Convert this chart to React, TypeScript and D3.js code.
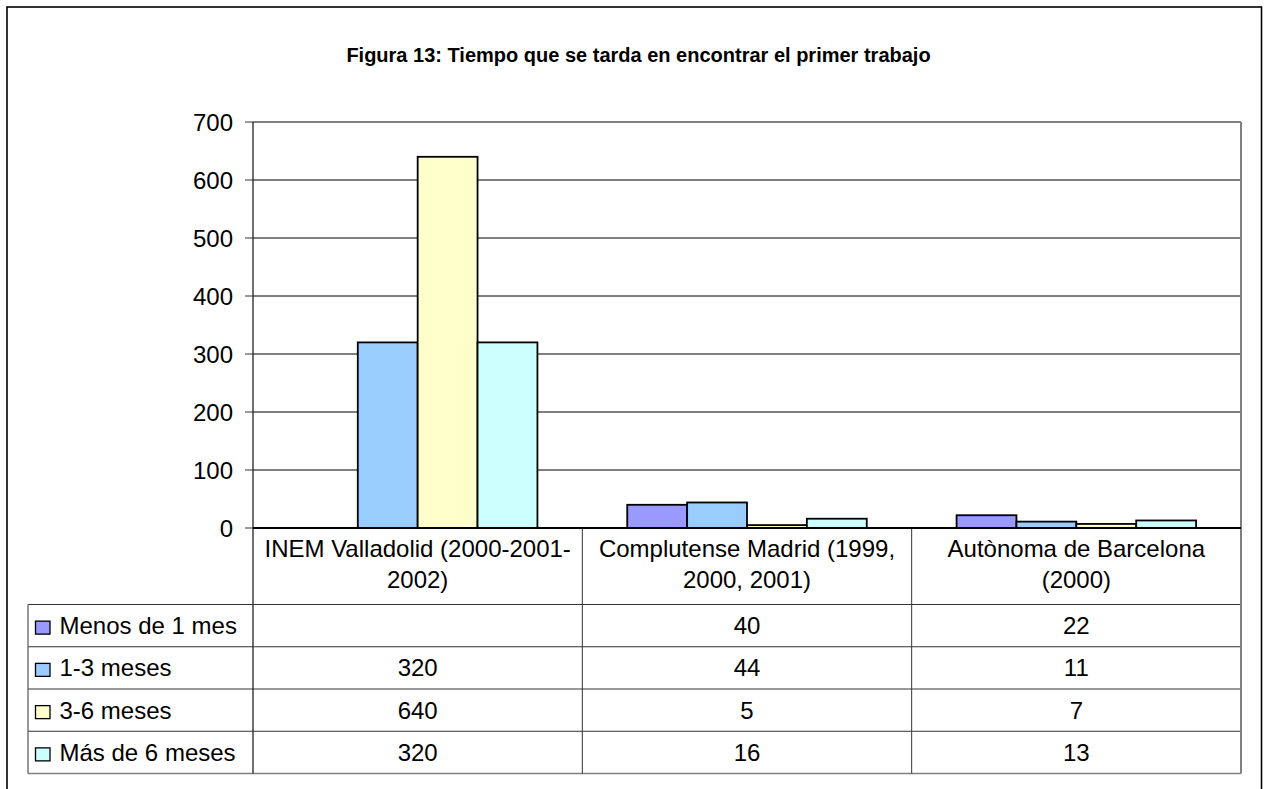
import React from "react";
import * as d3 from "d3";

const title = "Figura 13: Tiempo que se tarda en encontrar el primer trabajo";
const categories = ["INEM", "Complutense", "Barcelona"];
const categoryLines = [
  ["INEM Valladolid (2000-2001-", "2002)"],
  ["Complutense Madrid (1999,", "2000, 2001)"],
  ["Autònoma de Barcelona", "(2000)"],
];
const seriesNames = ["Menos de 1 mes", "1-3 meses", "3-6 meses", "Más de 6 meses"];
const seriesColors = ["#9999FF", "#99CCFF", "#FFFFCC", "#CCFFFF"];
const menos: (number | null)[] = [null, 40, 22];
const unoTres: (number | null)[] = [320, 44, 11];
const tresSeis: (number | null)[] = [640, 5, 7];
const masSeis: (number | null)[] = [320, 16, 13];
const yTicks = [0, 100, 200, 300, 400, 500, 600, 700];

const seriesValues = [menos, unoTres, tresSeis, masSeis];

const FONT = "'Liberation Sans', Arial, Helvetica, sans-serif";
const FS = 24;

export default function App() {
  const W = 1268;
  const H = 789;
  const plotLeft = 253;
  const plotRight = 1241;
  const plotTop = 122;
  const plotBottom = 528;
  const tableLeft = 28;
  const headerBottom = 604.5;
  const rowH = 42.25;

  const y = d3.scaleLinear().domain([0, 700]).range([plotBottom, plotTop]);
  const x0 = d3.scaleBand<string>().domain(categories).range([plotLeft, plotRight]).paddingInner(0).paddingOuter(0);
  const x1 = d3
    .scaleBand<string>()
    .domain(seriesNames)
    .range([0, x0.bandwidth()])
    .paddingInner(0)
    .paddingOuter(0.75);

  const rowTops = seriesNames.map((_, i) => headerBottom + i * rowH);
  const tableBottom = headerBottom + seriesNames.length * rowH;
  const lineColor = "#333";

  return (
    <svg
      width={W}
      height={H}
      style={{ position: "absolute", left: 0, top: 0, background: "#fff" }}
      fontFamily={FONT}
    >
      <rect x={0} y={0} width={W} height={H} fill="#fff" />
      {/* outer border */}
      <rect x={7} y={7} width={1254.5} height={H + 20} fill="none" stroke="#000" strokeWidth={1.6} />

      {/* title */}
      <text x={638.5} y={62} textAnchor="middle" fontSize={20} fontWeight="bold" fill="#000">
        {title}
      </text>

      {/* gridlines */}
      {yTicks
        .filter((t) => t !== 0 && t !== 700)
        .map((t) => (
          <line key={"g" + t} x1={plotLeft} x2={plotRight} y1={y(t)} y2={y(t)} stroke="#000" strokeWidth={1} />
        ))}
      {/* plot area border top/right */}
      <line x1={plotLeft} x2={plotRight} y1={plotTop} y2={plotTop} stroke="#808080" strokeWidth={2} />

      {/* bars */}
      {categories.map((c, ci) => (
        <g key={c} transform={`translate(${x0(c)},0)`}>
          {seriesNames.map((s, si) => {
            const v = seriesValues[si][ci];
            if (v === null || v === undefined) return null;
            return (
              <rect
                key={s}
                x={x1(s)}
                y={y(v)}
                width={x1.bandwidth()}
                height={y(0) - y(v)}
                fill={seriesColors[si]}
                stroke="#000"
                strokeWidth={1.8}
              />
            );
          })}
        </g>
      ))}

      {/* y axis ticks & labels */}
      {yTicks.map((t) => (
        <g key={"t" + t}>
          <line x1={245} x2={plotLeft} y1={y(t)} y2={y(t)} stroke="#555" strokeWidth={1.2} />
          <text x={233} y={y(t)} dy="0.36em" textAnchor="end" fontSize={FS} fill="#000">
            {t}
          </text>
        </g>
      ))}

      {/* table lines */}
      {rowTops.map((rt, i) => (
        <line key={"r" + i} x1={tableLeft} x2={plotRight} y1={rt} y2={rt} stroke={lineColor} strokeWidth={1} />
      ))}
      <line x1={tableLeft} x2={plotRight} y1={tableBottom} y2={tableBottom} stroke="#808080" strokeWidth={1.5} />
      <line x1={tableLeft} x2={tableLeft} y1={headerBottom} y2={tableBottom} stroke="#555" strokeWidth={1.2} />
      {categories.slice(1).map((c) => (
        <line key={"v" + c} x1={x0(c)} x2={x0(c)} y1={plotBottom} y2={tableBottom} stroke={lineColor} strokeWidth={1} />
      ))}
      <line x1={plotRight} x2={plotRight} y1={plotTop} y2={tableBottom} stroke="#808080" strokeWidth={2} />
      {/* y axis line */}
      <line x1={plotLeft} x2={plotLeft} y1={plotTop} y2={tableBottom} stroke="#222" strokeWidth={1.3} />
      {/* zero line */}
      <line x1={plotLeft} x2={plotRight} y1={y(0)} y2={y(0)} stroke="#000" strokeWidth={2} />

      {/* category header labels */}
      {categories.map((c, ci) => (
        <text key={"h" + c} textAnchor="middle" fontSize={FS} fill="#000">
          {categoryLines[ci].map((ln, li) => (
            <tspan key={li} x={(x0(c) as number) + x0.bandwidth() / 2} y={556.5 + li * 31.6}>
              {ln}
            </tspan>
          ))}
        </text>
      ))}

      {/* legend column + values */}
      {seriesNames.map((s, si) => {
        const rt = rowTops[si];
        const base = rt + rowH / 2 + 8.5;
        return (
          <g key={"row" + s}>
            <rect x={35.5} y={base - 13} width={14.5} height={13} fill={seriesColors[si]} stroke="#000" strokeWidth={1.3} />
            <text x={59.5} y={base} fontSize={FS} fill="#000">
              {s}
            </text>
            {categories.map((c, ci) => {
              const v = seriesValues[si][ci];
              return (
                <text
                  key={c}
                  x={(x0(c) as number) + x0.bandwidth() / 2}
                  y={base}
                  textAnchor="middle"
                  fontSize={FS}
                  fill="#000"
                >
                  {v === null ? "" : String(v)}
                </text>
              );
            })}
          </g>
        );
      })}
    </svg>
  );
}
